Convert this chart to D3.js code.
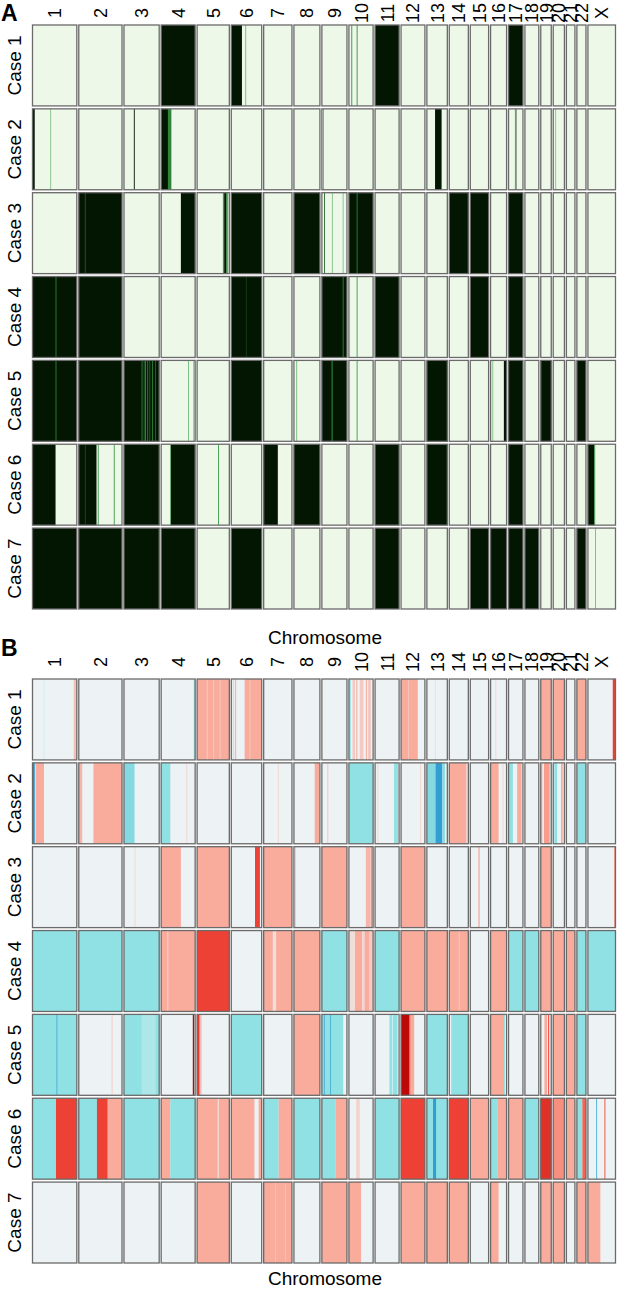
<!DOCTYPE html>
<html><head><meta charset="utf-8">
<script src="https://cdn.jsdelivr.net/npm/d3@7"></script>
<style>body{margin:0;background:#fff}svg text{font-family:"Liberation Sans",Arial,sans-serif;fill:#000}</style>
</head><body><svg id="c" width="619" height="1291"></svg>
<script>
const chromosomes = ["1","2","3","4","5","6","7","8","9","10","11","12","13","14","15","16","17","18","19","20","21","22","X"];
const chromLengthsMb = [249,243,198,191,181,171,159,146,141,136,135,134,115,107,103,90,81,78,59,63,48,51,155];
const cases = ["Case 1","Case 2","Case 3","Case 4","Case 5","Case 6","Case 7"];

// Panel A: LOH segments [chromosome, start fraction, end fraction, level 0..1]
const lohCase1 = [["4",0,1,1],["6",0,0.35,1],["6",0.46,0.48,0.35],["10",0.1,0.12,0.55],["10",0.32,0.34,0.55],["11",0,1,1],["17",0,1,1]];
const lohCase2 = [["1",0,0.05,1],["1",0.4,0.42,0.3],["3",0.28,0.3,1],["4",0,0.2,1],["4",0.2,0.3,0.6],["9",0.04,0.06,0.45],["13",0.4,0.72,1],["17",0.48,0.53,1],["17",0.44,0.46,0.4],["20",0.18,0.21,0.3]];
const lohCase3 = [["2",0,1,1],["2",0.14,0.16,0.75],["4",0.58,1,1],["5",0.8,0.84,0.5],["5",0.84,0.9,1],["5",0.9,0.95,0.6],["6",0,1,1],["8",0,1,1],["9",0.09,0.11,0.7],["9",0.4,0.42,0.3],["9",0.83,0.85,0.3],["10",0,1,1],["10",0.32,0.34,0.6],["14",0,1,1],["15",0,1,1],["17",0,1,1]];
const lohCase4 = [["1",0,1,1],["1",0.52,0.54,0.6],["2",0,1,1],["6",0,1,1],["6",0.48,0.5,0.85],["9",0,1,1],["9",0.83,0.85,0.6],["10",0.32,0.34,0.5],["11",0,1,1],["15",0,1,1],["17",0,1,1]];
const lohCase5 = [["1",0,1,1],["1",0.52,0.54,0.6],["2",0,1,1],["3",0,1,1],["3",0.5,0.52,0.6],["3",0.56,0.58,0.7],["3",0.6,0.62,0.55],["3",0.66,0.68,0.6],["3",0.72,0.74,0.7],["3",0.8,0.82,0.6],["3",0.88,0.9,0.7],["4",0.79,0.81,0.35],["4",0.95,0.97,0.4],["6",0,1,1],["8",0.09,0.11,0.35],["9",0,1,1],["9",0.39,0.41,0.5],["10",0.32,0.34,0.5],["13",0,1,1],["16",0.11,0.13,0.3],["16",0.83,1,1],["17",0,1,1],["19",0,1,1],["22",0,1,1]];
const lohCase6 = [["1",0,0.52,1],["2",0,0.41,1],["2",0.14,0.16,0.8],["2",0.44,0.46,0.5],["2",0.81,0.83,0.5],["3",0,1,1],["4",0.27,0.29,0.6],["4",0.29,1,1],["5",0.65,0.67,0.5],["7",0,0.5,1],["8",0,1,1],["11",0,1,1],["13",0,1,1],["17",0,1,1],["X",0,0.23,1],["X",0.23,0.25,0.55]];
const lohCase7 = [["1",0,1,1],["2",0,1,1],["3",0,1,1],["4",0,1,1],["6",0,1,1],["11",0,1,1],["15",0,1,1],["16",0,1,1],["17",0,1,1],["18",0,1,1],["22",0,1,1],["X",0.26,0.28,0.35]];

// Panel B: copy-number segments [chromosome, start fraction, end fraction, log2 ratio]
const cnCase1 = [["1",0.25,0.27,-0.15],["1",0.93,0.99,0.25],["4",0.96,1,-0.45],["5",0,1,0.35],["5",0.3,0.33,0.18],["5",0.5,0.53,0.2],["5",0.7,0.72,0.18],["6",0.05,0.08,0.2],["6",0.12,0.16,0.3],["6",0.44,0.98,0.35],["6",0.6,0.62,0.2],["10",0,0.08,-0.4],["10",0.15,0.25,0.2],["10",0.3,0.35,0.3],["10",0.45,0.6,0.2],["10",0.7,0.75,0.3],["10",0.8,0.9,0.25],["12",0,0.7,0.35],["12",0.3,0.33,0.2],["13",0.4,0.42,-0.15],["16",0.3,0.32,0.15],["19",0,1,0.35],["20",0,1,0.35],["22",0,1,0.35],["X",0.9,1,0.75]];
const cnCase2 = [["1",0,0.05,-1],["1",0.07,0.26,0.35],["2",0,0.08,0.3],["2",0.34,1,0.35],["3",0,0.3,-0.5],["4",0,0.27,-0.45],["4",0.74,0.76,0.15],["7",0.5,0.52,0.15],["8",0.8,0.97,0.35],["9",0.22,0.25,0.25],["10",0,1,-0.45],["11",0.1,0.12,0.15],["11",0.79,0.95,-0.45],["12",0.8,0.82,0.15],["13",0,0.42,-0.5],["13",0.42,0.75,-0.9],["13",0.75,0.88,-0.5],["14",0,0.9,0.35],["16",0,0.5,0.35],["16",0.75,0.77,0.15],["17",0,0.3,-0.45],["17",0.6,0.9,0.35],["19",0,0.2,0.15],["19",0.3,0.85,0.4],["20",0.1,0.35,-0.45],["20",0.7,0.85,0.35],["22",0,1,-0.45]];
const cnCase3 = [["3",0.3,0.32,0.15],["4",0,0.58,0.35],["5",0,1,0.35],["6",0.78,0.94,0.75],["7",0,1,0.35],["8",0.03,0.06,0.3],["9",0,1,0.35],["10",0.7,0.9,0.3],["10",0.93,0.96,0.7],["12",0,1,0.35],["15",0.45,0.5,0.45],["19",0,1,0.35],["X",0.96,1,0.6]];
const cnCase4 = [["1",0,1,-0.45],["2",0,1,-0.45],["3",0,1,-0.45],["4",0,1,0.35],["4",0.18,0.21,0.15],["5",0,1,0.75],["7",0,1,0.35],["7",0.32,0.44,0.1],["8",0,1,0.35],["9",0,1,-0.45],["10",0,0.25,0.1],["10",0.25,0.55,0.35],["10",0.55,0.65,0.15],["10",0.65,0.85,0.35],["10",0.85,1,0.2],["11",0,1,-0.45],["12",0,1,0.35],["13",0,1,0.35],["14",0,1,0.35],["14",0.5,0.53,0.2],["16",0,1,0.35],["17",0,1,-0.45],["18",0,1,-0.45],["19",0,1,0.35],["20",0,1,0.35],["21",0,1,0.35],["22",0,1,-0.45],["X",0,1,-0.45]];
const cnCase5 = [["1",0,1,-0.45],["1",0.54,0.56,-0.8],["2",0.76,0.78,0.2],["3",0,1,-0.45],["3",0.5,0.9,-0.3],["4",0.93,0.97,1.1],["5",0,0.08,0.8],["5",0.08,0.14,0.25],["6",0,1,-0.45],["8",0,1,0.35],["9",0,0.85,-0.45],["9",0.08,0.11,-0.8],["9",0.33,0.36,-0.8],["11",0.6,0.93,-0.45],["11",0.7,0.75,-0.15],["12",0,0.35,1.1],["12",0.35,0.4,0.7],["12",0.4,0.55,0.35],["13",0,1,-0.45],["14",0.1,1,-0.45],["16",0,0.85,0.35],["16",0.85,0.9,-0.45],["19",0.35,0.6,0.35],["19",0.7,0.8,0.7],["20",0,1,0.35],["21",0,1,0.35],["22",0,1,-0.45]];
const cnCase6 = [["1",0,0.53,-0.45],["1",0.53,1,0.75],["2",0,0.42,-0.45],["2",0.42,0.67,0.75],["2",0.67,1,0.35],["3",0,1,-0.45],["4",0,0.27,0.35],["4",0.27,1,-0.45],["5",0,1,0.35],["5",0.64,0.66,0],["6",0,0.76,0.35],["6",0.9,1,0.35],["7",0,0.53,-0.45],["7",0.53,1,0.35],["8",0,1,-0.45],["9",0,0.55,-0.45],["9",0.55,1,0.35],["10",0.3,0.45,0.15],["11",0,1,-0.45],["12",0,1,0.75],["13",0,1,-0.45],["13",0.3,0.45,-0.9],["14",0,1,0.75],["15",0,1,0.35],["16",0,0.45,-0.45],["16",0.45,1,0.35],["17",0,1,0.35],["18",0,1,-0.45],["19",0,1,0.85],["20",0,1,0.45],["21",0,1,0.35],["22",0,0.6,-0.45],["22",0.6,1,0.6],["X",0.3,0.33,-0.8],["X",0.6,0.63,0.7]];
const cnCase7 = [["5",0,1,0.35],["7",0,1,0.35],["7",0.4,0.42,0.25],["7",0.75,0.77,0.25],["9",0,1,0.35],["10",0,0.5,0.35],["12",0,1,0.35],["13",0,1,0.35],["14",0,1,0.35],["16",0,0.5,0.35],["19",0,1,0.35],["20",0,1,0.35],["22",0,1,0.35],["X",0,0.45,0.35]];

const lohData = [lohCase1,lohCase2,lohCase3,lohCase4,lohCase5,lohCase6,lohCase7];
const cnData = [cnCase1,cnCase2,cnCase3,cnCase4,cnCase5,cnCase6,cnCase7];

const svg = d3.select("#c");
const gapMb = 11;
const offsets = [];
let acc = 0;
chromLengthsMb.forEach((l,i)=>{offsets.push(acc); acc += l + gapMb;});
const total = acc - gapMb;
const x = d3.scaleLinear().domain([0,total]).range([32.5,615.5]);
const chromIdx = new Map(chromosomes.map((c,i)=>[c,i]));

const lohColor = d3.scaleLinear().domain([0,0.5,1]).range(["#edf8e9","#3c9f48","#021602"]).clamp(true);
const cnColor = d3.scaleLinear().domain([-1,-0.45,0,0.35,0.7,1.1])
  .range(["#1e8fd0","#8fe1e4","#edf2f4","#f9ab9c","#f3493a","#bd0808"]).clamp(true);

function panel(top, data, color, bg, labelY, letter, letterY, titleY){
  const y = d3.scaleBand().domain(cases).range([top, top+584]).paddingInner(0.035);
  const g = svg.append("g");
  cases.forEach((cs,ci)=>{
    const row = g.append("g");
    row.selectAll("rect.bg").data(chromosomes).join("rect")
      .attr("x",c=>x(offsets[chromIdx.get(c)]))
      .attr("width",c=>x(offsets[chromIdx.get(c)]+chromLengthsMb[chromIdx.get(c)])-x(offsets[chromIdx.get(c)]))
      .attr("y",y(cs)).attr("height",y.bandwidth()).attr("fill",color(bg));
    row.selectAll("rect.seg").data(data[ci]).join("rect")
      .attr("x",d=>{const i=chromIdx.get(d[0]);return x(offsets[i]+d[1]*chromLengthsMb[i]);})
      .attr("width",d=>{const i=chromIdx.get(d[0]);return Math.max(0.9,x(offsets[i]+d[2]*chromLengthsMb[i])-x(offsets[i]+d[1]*chromLengthsMb[i]));})
      .attr("y",y(cs)).attr("height",y.bandwidth()).attr("fill",d=>color(d[3]));
    row.selectAll("rect.frame").data(chromosomes).join("rect")
      .attr("x",c=>x(offsets[chromIdx.get(c)]))
      .attr("width",c=>x(offsets[chromIdx.get(c)]+chromLengthsMb[chromIdx.get(c)])-x(offsets[chromIdx.get(c)]))
      .attr("y",y(cs)).attr("height",y.bandwidth())
      .attr("fill","none").attr("stroke","#6a6a6a").attr("stroke-width",1.3);
    g.append("text").attr("transform",`translate(21,${y(cs)+y.bandwidth()/2}) rotate(-90)`)
      .attr("text-anchor","middle").attr("font-size",19).text(cs);
  });
  g.selectAll("text.chr").data(chromosomes).join("text")
    .attr("transform",c=>{const i=chromIdx.get(c);return `translate(${x(offsets[i]+chromLengthsMb[i]/2)+6.5},${labelY}) rotate(-90)`;})
    .attr("text-anchor","middle").attr("font-size",18).text(c=>c);
  svg.append("text").attr("x",1).attr("y",letterY).attr("font-size",23).attr("font-weight","bold").text(letter);
  svg.append("text").attr("x",325).attr("y",titleY).attr("text-anchor","middle").attr("font-size",19).text("Chromosome");
}
panel(25, lohData, lohColor, 0, 13, "A", 21, 644);
panel(679, cnData, cnColor, 0, 662, "B", 656, 1285);
</script></body></html>
